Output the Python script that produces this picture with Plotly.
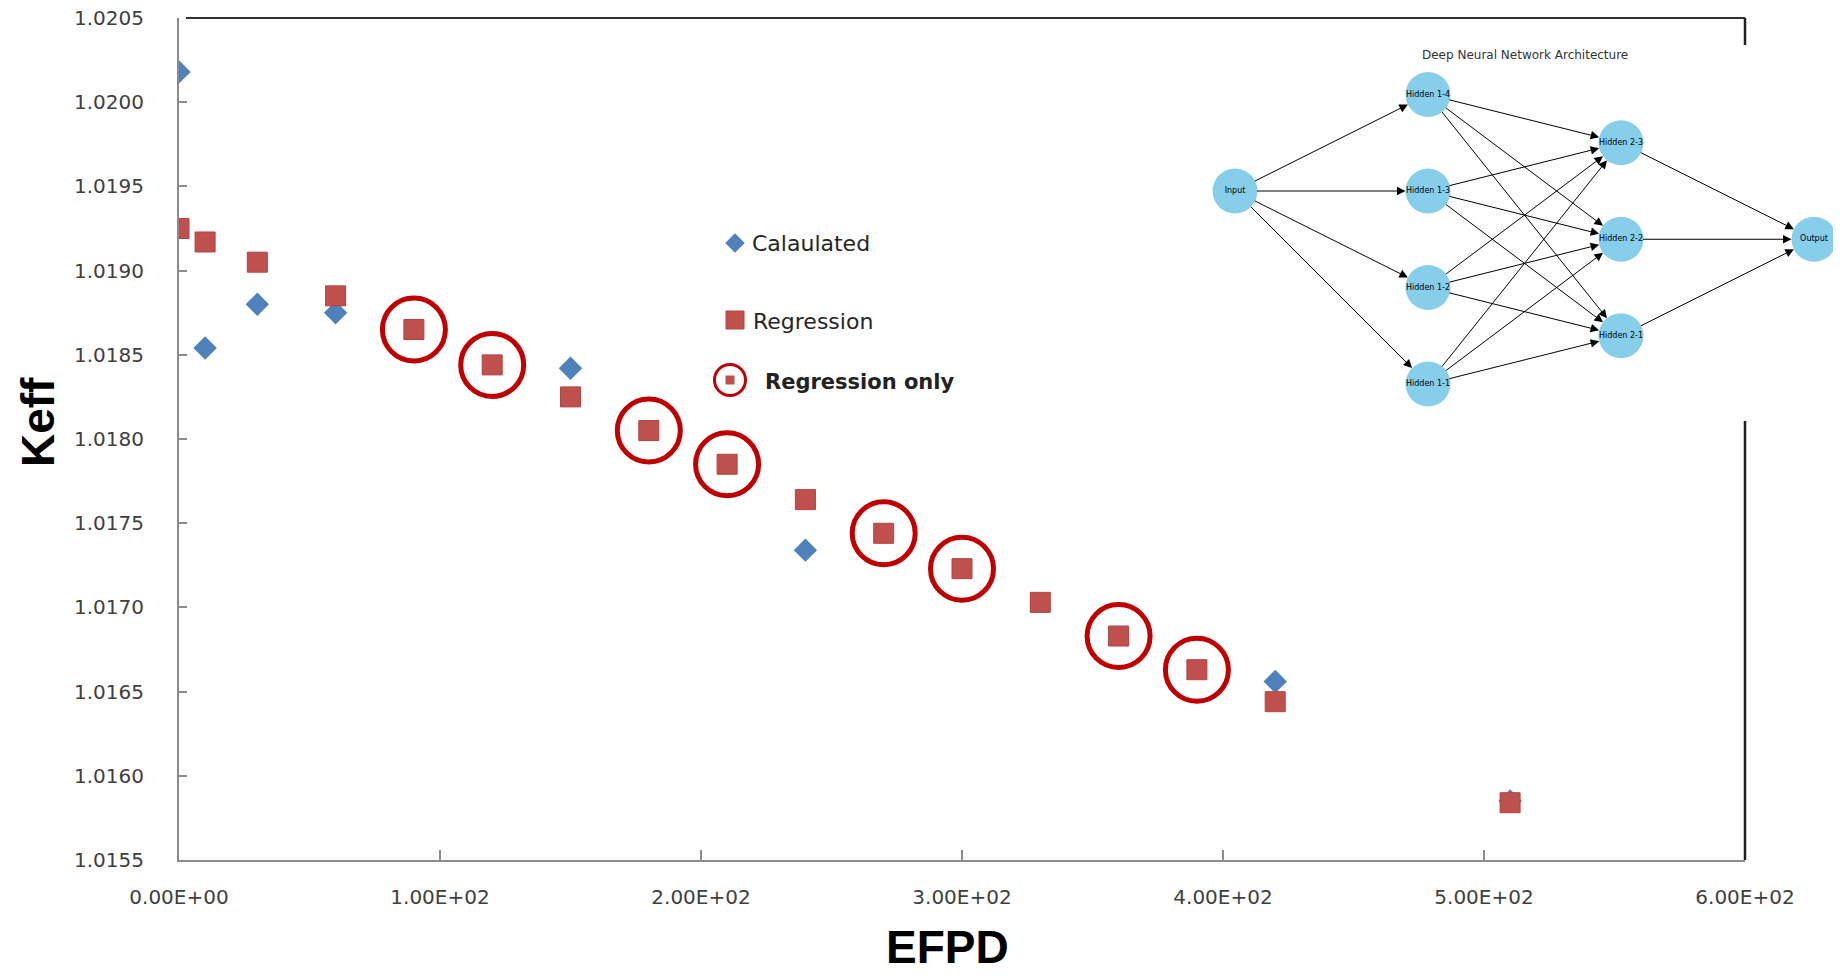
import plotly.graph_objects as go

# ---------------- data ----------------
calc_efpd = [0, 10, 30, 60, 150, 240, 420, 510]
calc_keff = [1.02018, 1.01854, 1.01880, 1.01875, 1.01842, 1.01734, 1.01656, 1.01585]

reg_efpd = [0, 10, 30, 60, 90, 120, 150, 180, 210, 240, 270, 300, 330, 360, 390, 420, 510]
reg_keff = [1.01925, 1.01917, 1.01905, 1.01885, 1.01865, 1.01844, 1.01825, 1.01805,
            1.01785, 1.01764, 1.01744, 1.01723, 1.01703, 1.01683, 1.01663, 1.01644, 1.01584]

# points where only the regression value exists (circled)
regonly_efpd = [90, 120, 180, 210, 270, 300, 360, 390]
regonly_keff = [k for e, k in zip(reg_efpd, reg_keff) if e in regonly_efpd]

x_tickvals = [0, 100, 200, 300, 400, 500, 600]
x_ticktext = ["0.00E+00", "1.00E+02", "2.00E+02", "3.00E+02", "4.00E+02", "5.00E+02", "6.00E+02"]
y_tickvals = [1.0155, 1.0160, 1.0165, 1.0170, 1.0175, 1.0180, 1.0185, 1.0190, 1.0195, 1.0200, 1.0205]

# neural-network inset (diagram structure)
nn_layers = [["Input"],
             ["Hidden 1-1", "Hidden 1-2", "Hidden 1-3", "Hidden 1-4"],
             ["Hidden 2-1", "Hidden 2-2", "Hidden 2-3"],
             ["Output"]]
nn_slots = {"Input": 2, "Hidden 1-1": 0, "Hidden 1-2": 1, "Hidden 1-3": 2, "Hidden 1-4": 3,
            "Hidden 2-1": 0.5, "Hidden 2-2": 1.5, "Hidden 2-3": 2.5, "Output": 1.5}
nn_title = "Deep Neural Network Architecture"

# ---------------- geometry (page pixels; the page body has an 8px margin) ----------------
OFF = 8
PAGE_W, PAGE_H = 1841, 976
W, H = PAGE_W - OFF, PAGE_H - OFF
PL, PR, PT, PB = 179, 1745, 18, 860   # plot area in page pixels

fig = go.Figure()

# main data
fig.add_trace(go.Scatter(x=calc_efpd, y=calc_keff, mode="markers", name="Calaulated",
                         marker=dict(symbol="diamond", size=18, color="#4F81BD",
                                     line=dict(width=0)),
                         xaxis="x", yaxis="y", showlegend=False))
fig.add_trace(go.Scatter(x=reg_efpd, y=reg_keff, mode="markers", name="Regression",
                         marker=dict(symbol="square", size=20, color="#C0504D",
                                     line=dict(width=1, color="#B04442")),
                         xaxis="x", yaxis="y", showlegend=False))
fig.add_trace(go.Scatter(x=regonly_efpd, y=regonly_keff, mode="markers", name="Regression only",
                         marker=dict(symbol="circle-open", size=63, color="#C00000",
                                     line=dict(width=5, color="#C00000")),
                         xaxis="x", yaxis="y", showlegend=False))

# ---------------- overlay pixel subplot for legend & inset ----------------
fig.add_trace(go.Scatter(x=[735], y=[243], mode="markers",
                         marker=dict(symbol="diamond", size=15, color="#4F81BD"),
                         xaxis="x2", yaxis="y2", showlegend=False, hoverinfo="skip"))
fig.add_trace(go.Scatter(x=[735], y=[320], mode="markers",
                         marker=dict(symbol="square", size=18, color="#C0504D",
                                     line=dict(width=1, color="#B04442")),
                         xaxis="x2", yaxis="y2", showlegend=False, hoverinfo="skip"))
fig.add_trace(go.Scatter(x=[730], y=[380], mode="markers",
                         marker=dict(symbol="circle-open", size=31, color="#C00000",
                                     line=dict(width=3, color="#C00000")),
                         xaxis="x2", yaxis="y2", showlegend=False, hoverinfo="skip"))
fig.add_trace(go.Scatter(x=[730], y=[380], mode="markers",
                         marker=dict(symbol="square", size=9, color="#C0504D"),
                         xaxis="x2", yaxis="y2", showlegend=False, hoverinfo="skip"))

legend_font = dict(family="DejaVu Sans", size=22, color="#262626")
annotations = [
    dict(x=750, y=243, text="Calaulated", xanchor="left", yanchor="middle",
         xref="x2", yref="y2", showarrow=False, font=legend_font),
    dict(x=751, y=321, text="Regression", xanchor="left", yanchor="middle",
         xref="x2", yref="y2", showarrow=False, font=legend_font),
    dict(x=763, y=382, text="<b>Regression only</b>", xanchor="left", yanchor="middle",
         xref="x2", yref="y2", showarrow=False,
         font=dict(family="DejaVu Sans", size=21, color="#222222")),
    # axis titles
    dict(x=38, y=422, text="<b>Keff</b>", textangle=-90, xanchor="center", yanchor="middle",
         xref="x2", yref="y2", showarrow=False,
         font=dict(family="Liberation Sans", size=46, color="black")),
    dict(x=947, y=947, text="<b>EFPD</b>", xanchor="center", yanchor="middle",
         xref="x2", yref="y2", showarrow=False,
         font=dict(family="Liberation Sans", size=46, color="black")),
]

# neural network inset
NX0, NDX, NY0, NDY, NR = 1235, 193, 384, 96.5, 22.5
pos = {}
for li, layer in enumerate(nn_layers):
    for name in layer:
        pos[name] = (NX0 + li * NDX, NY0 - nn_slots[name] * NDY)

for li in range(len(nn_layers) - 1):
    for s in nn_layers[li]:
        for t in nn_layers[li + 1]:
            (sx, sy), (tx, ty) = pos[s], pos[t]
            annotations.append(dict(x=tx, y=ty, ax=sx, ay=sy, xref="x2", yref="y2",
                                    axref="x2", ayref="y2", text="", showarrow=True,
                                    arrowhead=2, arrowsize=1.7, arrowwidth=1,
                                    arrowcolor="black", standoff=NR, startstandoff=NR - 2))

names = [n for layer in nn_layers for n in layer]
fig.add_trace(go.Scatter(x=[pos[n][0] for n in names], y=[pos[n][1] for n in names],
                         mode="markers+text", text=names, textposition="middle center",
                         textfont=dict(family="DejaVu Sans", size=8, color="black"),
                         marker=dict(size=45, color="#87CEEB", line=dict(width=0)),
                         xaxis="x2", yaxis="y2", showlegend=False, hoverinfo="skip"))

annotations.append(dict(x=1525, y=55, text=nn_title, xref="x2", yref="y2", showarrow=False,
                        xanchor="center", yanchor="middle",
                        font=dict(family="DejaVu Sans", size=12, color="#333333")))

# frame (top and right borders; right border interrupted by the inset)
shapes = [
    dict(type="line", x0=186, x1=PR, y0=PT, y1=PT, xref="x2", yref="y2",
         line=dict(color="#303030", width=2), layer="below"),
    dict(type="line", x0=PR, x1=PR, y0=PT, y1=45, xref="x2", yref="y2",
         line=dict(color="#202020", width=2.5), layer="below"),
    dict(type="line", x0=PR, x1=PR, y0=421, y1=PB, xref="x2", yref="y2",
         line=dict(color="#202020", width=2.5), layer="below"),
]

tick_font = dict(family="DejaVu Sans", size=20, color="#404040")
fig.update_layout(
    width=W, height=H,
    margin=dict(l=0, r=0, t=0, b=0, autoexpand=False),
    paper_bgcolor="white", plot_bgcolor="rgba(0,0,0,0)",
    showlegend=False,
    xaxis=dict(domain=[(PL - OFF) / W, (PR - OFF) / W], range=[0, 600],
               tickvals=x_tickvals, ticktext=x_ticktext,
               ticks="inside", ticklen=10, tickwidth=1.5, tickcolor="#8c8c8c",
               showline=True, linecolor="#8c8c8c", linewidth=2, showgrid=False, zeroline=False,
               tickfont=tick_font, ticklabelstandoff=18, ticklabeloverflow="allow",
               anchor="y", automargin=False),
    yaxis=dict(domain=[(PAGE_H - PB) / H, (PAGE_H - PT) / H], range=[1.0155, 1.0205],
               tickvals=y_tickvals,
               tickformat=".4f", ticks="inside", ticklen=8, tickwidth=2, tickcolor="#8c8c8c",
               showline=True, linecolor="#8c8c8c", linewidth=2, showgrid=False, zeroline=False,
               tickfont=tick_font, ticklabelstandoff=29, ticklabeloverflow="allow",
               anchor="x", automargin=False),
    # pixel-coordinate overlay covering the whole figure, expressed in page pixels
    xaxis2=dict(domain=[0, 1], range=[OFF, PAGE_W], visible=False, anchor="y2",
                fixedrange=True, automargin=False),
    yaxis2=dict(domain=[0, 1], range=[PAGE_H, OFF], visible=False, anchor="x2",
                fixedrange=True, automargin=False),
    annotations=annotations,
    shapes=shapes,
)

fig.write_html("out.html")
